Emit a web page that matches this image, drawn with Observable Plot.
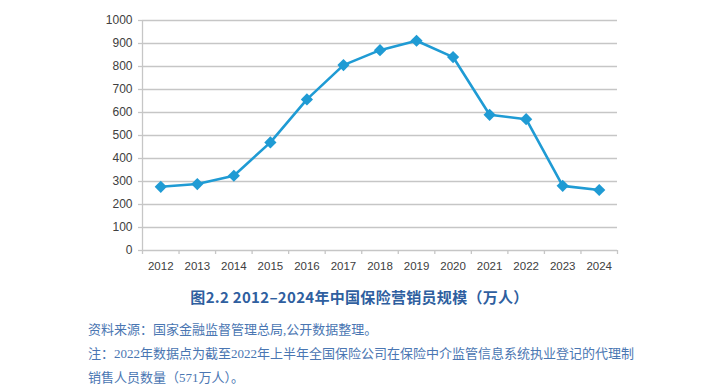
<!DOCTYPE html>
<html><head><meta charset="utf-8">
<script src="https://cdn.jsdelivr.net/npm/d3@7"></script>
<script src="https://cdn.jsdelivr.net/npm/@observablehq/plot@0.6"></script>
<style>
body{margin:0;background:#fff;width:719px;height:388px;overflow:hidden;}
#title{position:absolute;left:0;width:719px;top:286px;text-align:center;font:bold 15px "Noto Sans CJK SC","Noto Sans",sans-serif;color:#2f5f9f;letter-spacing:0.3px;}
.note{position:absolute;left:88px;font:13px "Liberation Serif","DejaVu Serif","Noto Sans CJK SC",serif;color:#4a76b2;white-space:nowrap;}
</style></head><body>
<div id="chart"></div>
<div id="title"></div>
<div class="note" id="n1" style="top:319px"></div>
<div class="note" id="n2" style="top:343px"></div>
<div class="note" id="n3" style="top:367px"></div>
<script>
const years = [2012,2013,2014,2015,2016,2017,2018,2019,2020,2021,2022,2023,2024];
const agents = [277,289,325,470,657,806,871,912,841,590,571,281,263];
const yTicks = [0,100,200,300,400,500,600,700,800,900,1000];
const titleText = "图2.2 2012–2024年中国保险营销员规模（万人）";
const notes = [
  "资料来源：国家金融监督管理总局,公开数据整理。",
  "注：2022年数据点为截至2022年上半年全国保险公司在保险中介监管信息系统执业登记的代理制",
  "销售人员数量（571万人）。"
];
const data = years.map((y,i)=>({year:y, value:agents[i]}));
const bounds = [years[0]-0.5, ...years.map(y=>y+0.5)];
const grey = "#c6c6c6";
const chart = Plot.plot({
  width:719, height:280,
  marginLeft:142, marginRight:102, marginTop:20, marginBottom:30,
  style:{fontFamily:"'Liberation Sans','Open Sans',sans-serif", fontSize:"11.5px", color:"#404040", background:"#fff"},
  x:{type:"linear", domain:[years[0]-0.5, years[years.length-1]+0.5]},
  y:{domain:[0,1000]},
  marks:[
    Plot.ruleY(yTicks.filter(d=>d>0), {stroke:grey, strokeWidth:1.3}),
    Plot.ruleX([years[0]-0.5], {stroke:grey, strokeWidth:1.3}),
    Plot.ruleY([0], {stroke:grey, strokeWidth:1.3}),
    Plot.axisY({ticks:yTicks, tickSize:4, tickPadding:6, stroke:grey, strokeWidth:1.3, label:null, tickFormat:d=>String(d), fontSize:12}),
    Plot.axisX({ticks:bounds, tickSize:4, stroke:grey, strokeWidth:1.3, label:null, tickFormat:()=>""}),
    Plot.axisX({ticks:years, tickSize:0, tickPadding:11, label:null, tickFormat:d=>String(d), fontSize:11.5}),
    Plot.line(data, {x:"year", y:"value", stroke:"#1f9bd4", strokeWidth:2.6}),
    Plot.dot(data, {x:"year", y:"value", symbol:"diamond2", r:5.5, fill:"#1f9bd4"})
  ]
});
document.getElementById("chart").append(chart);
document.getElementById("title").textContent = titleText;
notes.forEach((t,i)=>document.getElementById("n"+(i+1)).textContent=t);
</script>
</body></html>
